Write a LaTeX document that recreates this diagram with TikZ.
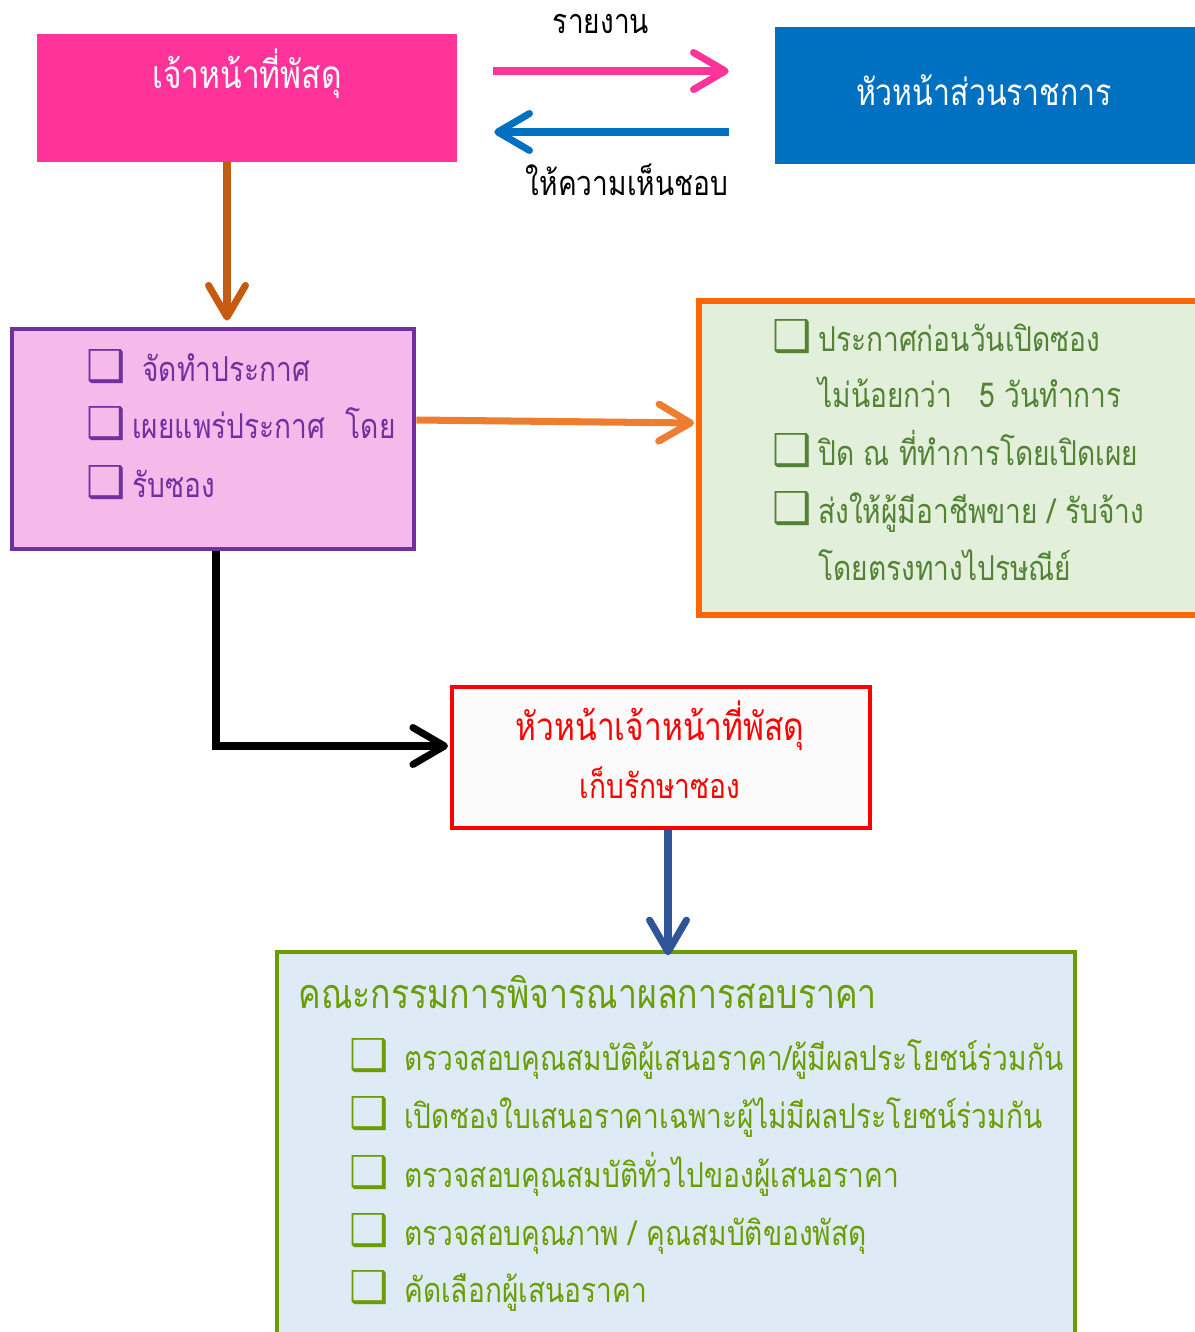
\documentclass[tikz,border=0pt]{standalone}
\usepackage{fontspec}
\usepackage{xcolor}
\usepackage{tikz}
\newfontfamily\thaifont[Script=Thai, FakeStretch=0.82]{Loma}
\newfontfamily\symfont{DejaVu Sans}
\usetikzlibrary{arrows.meta,positioning,calc}

\definecolor{staffpink}{HTML}{FF3399}
\definecolor{headblue}{HTML}{0070C0}
\definecolor{brownline}{HTML}{C55A11}
\definecolor{listpurple}{HTML}{7030A0}
\definecolor{listpink}{HTML}{F5BAEA}
\definecolor{orangeline}{HTML}{ED7D31}
\definecolor{noteorange}{HTML}{FF6600}
\definecolor{notefill}{HTML}{E2EFDA}
\definecolor{notetext}{HTML}{548235}
\definecolor{keepred}{HTML}{FF0000}
\definecolor{keepfill}{HTML}{FBFBFB}
\definecolor{downblue}{HTML}{2F5597}
\definecolor{cmtgreen}{HTML}{6A9E00}
\definecolor{cmtfill}{HTML}{DEEBF7}

\newcommand{\chk}{{\symfont\fontsize{25pt}{25pt}\selectfont ❑}}

\tikzset{
  box/.style={rectangle, inner sep=0pt},
  txt/.style={inner sep=0pt, anchor=base, font=\thaifont\fontsize{19.5pt}{19.5pt}\selectfont},
  big/.style={txt, font=\thaifont\fontsize{22pt}{22pt}\selectfont},
  item/.style={txt, anchor=base west},
  tick/.style={inner sep=0pt, anchor=base west},
  flow/.style={line width=4pt, -{Straight Barb[length=18pt, width=21pt, round]}},
}

\begin{document}
\begin{tikzpicture}[x=0.02cm, y=-0.02cm]
    \useasboundingbox (0,0) rectangle (1194,1332);

    % Top row
    \node[box, fill=staffpink, minimum width=8.4cm, minimum height=2.56cm] (staff) at (247,98) {};
    \node[box, fill=headblue, minimum width=8.5cm, minimum height=2.74cm] (head) at (987.5,95.5) {};
    \node[big, text=white] (stafft) at (247,88) {เจ้าหน้าที่พัสดุ};
    \node[big, text=white, font=\thaifont\fontsize{21pt}{21pt}\selectfont] (headt) at (984,105) {หัวหน้าส่วนราชการ};

    \coordinate (rep) at ([yshift=0.54cm]staff.east);
    \coordinate (ok) at ([yshift=-0.73cm]head.west);
    \draw[flow, staffpink, shorten <=0.72cm, shorten >=0.92cm] (rep) -- (rep -| head.west);
    \draw[flow, headblue, shorten <=0.92cm, shorten >=0.74cm] (ok) -- (ok -| staff.east);
    \node[txt] (report) at (601,33) {รายงาน};
    \node[txt] (approve) at (627,195) {ให้ความเห็นชอบ};

    % Announcement box
    \node[box, draw=listpurple, line width=2.8pt, fill=listpink, minimum width=8.04cm, minimum height=4.4cm] (list) at (213,439) {};
    \foreach \y/\x/\t in {381/142/{จัดทำประกาศ}, 438/132/{เผยแพร่ประกาศ\hspace{0.6em}โดย}, 497/132/{รับซอง}} {
        \node[tick, text=listpurple] (lc\y) at (86,\y) {\chk};
        \node[item, text=listpurple] (lt\y) at (\x,\y) {\t};
    }

    % Notice box
    \node[box, draw=noteorange, line width=3.4pt, fill=notefill, minimum width=10.12cm, minimum height=6.28cm] (note) at (952,458) {};
    \foreach \y in {351, 465, 523}
        \node[tick, text=notetext] (nc\y) at (772,\y) {\chk};
    \foreach \y/\t in {351/{ประกาศก่อนวันเปิดซอง}, 407/{ไม่น้อยกว่า\hspace{0.8em}5 วันทำการ}, 465/{ปิด ณ ที่ทำการโดยเปิดเผย}, 523/{ส่งให้ผู้มีอาชีพขาย / รับจ้าง}, 580/{โดยตรงทางไปรษณีย์}}
        \node[item, text=notetext] (nt\y) at (818,\y) {\t};

    % Keeper box
    \node[box, draw=keepred, line width=2.3pt, fill=keepfill, minimum width=8.36cm, minimum height=2.82cm] (keep) at (661,757.5) {};
    \node[big, text=keepred] (keept) at (660,740) {หัวหน้าเจ้าหน้าที่พัสดุ};
    \node[txt, text=keepred] (keeps) at (660,798) {เก็บรักษาซอง};

    % Committee box
    \node[box, draw=cmtgreen, line width=2pt, fill=cmtfill, minimum width=15.96cm, minimum height=7.86cm] (cmt) at (676,1148.5) {};
    \node[big, anchor=base west, text=cmtgreen, font=\thaifont\fontsize{23.5pt}{23.5pt}\selectfont] (cmtt) at (298,1008) {คณะกรรมการพิจารณาผลการสอบราคา};
    \foreach \y/\t in {1070/{ตรวจสอบคุณสมบัติผู้เสนอราคา/ผู้มีผลประโยชน์ร่วมกัน}, 1128/{เปิดซองใบเสนอราคาเฉพาะผู้ไม่มีผลประโยชน์ร่วมกัน}, 1187/{ตรวจสอบคุณสมบัติทั่วไปของผู้เสนอราคา}, 1245/{ตรวจสอบคุณภาพ / คุณสมบัติของพัสดุ}, 1302/{คัดเลือกผู้เสนอราคา}} {
        \node[tick, text=cmtgreen] (cc\y) at (349,\y) {\chk};
        \node[item, text=cmtgreen] (ct\y) at (404,\y) {\t};
    }

    % Connectors
    \coordinate (dn) at ([xshift=-0.4cm]staff.south);
    \draw[flow, brownline, shorten >=0.12cm] (dn) -- (dn |- list.north);
    \draw[flow, orangeline, shorten >=0.04cm] ([yshift=0.38cm]list.east) -- ([yshift=0.7cm]note.west);
    \draw[flow, black, shorten >=0.04cm] ([xshift=0.06cm]list.south) |- ([yshift=0.23cm]keep.west);
    \coordinate (kd) at ([xshift=0.14cm]keep.south);
    \draw[flow, downblue, shorten >=-0.1cm] (kd) -- (kd |- cmt.north);
\end{tikzpicture}
\end{document}
